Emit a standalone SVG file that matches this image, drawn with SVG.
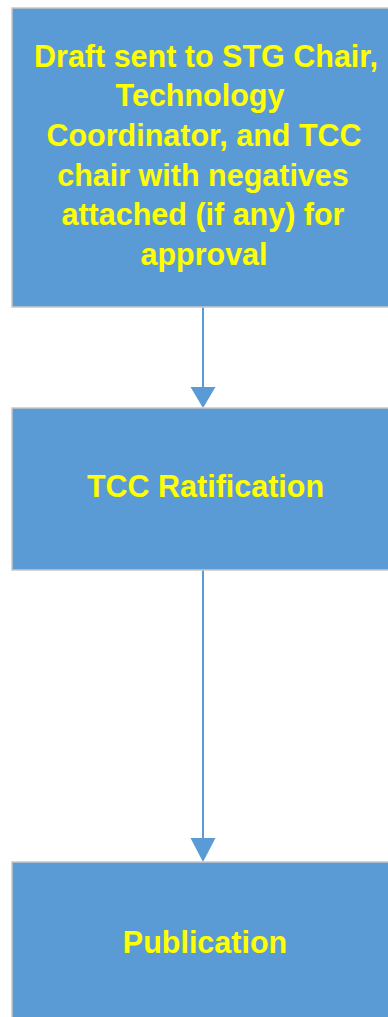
<svg xmlns="http://www.w3.org/2000/svg" width="388" height="1017" viewBox="0 0 388 1017">
<style>
.box{fill:#5B9BD5;stroke:#C8C8C8;stroke-width:1.5}
.lbl{font-family:"Liberation Sans",Arial,sans-serif;font-weight:bold;font-size:30.5px;fill:#FFFF00;text-anchor:middle}
.conn{stroke:#5B9BD5;stroke-width:2;fill:none}
.head{fill:#5B9BD5}
</style>
<rect width="388" height="1017" fill="#FFFFFF"/>
<g id="connectors">
<line class="conn" x1="203" y1="307" x2="203" y2="390"/>
<polygon class="head" points="190.5,387 215.5,387 203,408"/>
<line class="conn" x1="203" y1="570" x2="203" y2="841"/>
<polygon class="head" points="190.5,838 215.5,838 203,862"/>
</g>
<g id="node1">
<rect class="box" x="12" y="8" width="390" height="299"/>
<text class="lbl" x="206" y="67">Draft sent to STG Chair,</text>
<text class="lbl" x="200" y="106">Technology</text>
<text class="lbl" x="204" y="146">Coordinator, and TCC</text>
<text class="lbl" x="203" y="186">chair with negatives</text>
<text class="lbl" x="203" y="225">attached (if any) for</text>
<text class="lbl" x="204" y="265">approval</text>
</g>
<g id="node2">
<rect class="box" x="12" y="408" width="390" height="162"/>
<text class="lbl" x="205.5" y="497">TCC Ratification</text>
</g>
<g id="node3">
<rect class="box" x="12" y="862" width="390" height="170"/>
<text class="lbl" x="205" y="953">Publication</text>
</g>
</svg>
